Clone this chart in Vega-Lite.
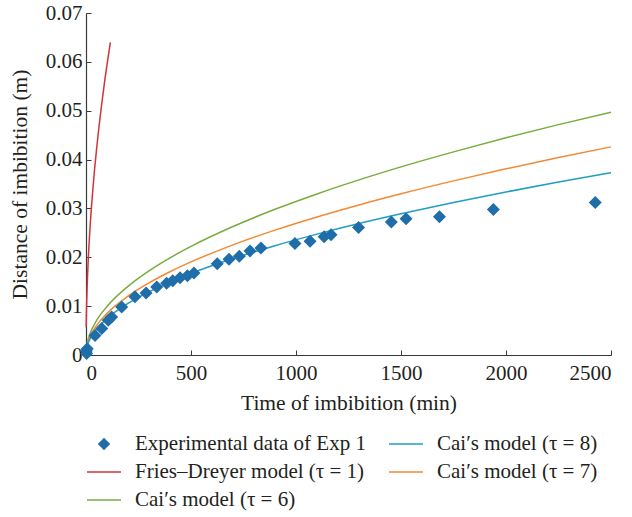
{
  "$schema": "https://vega.github.io/schema/vega-lite/v6.json",
  "autosize": {"type": "none"},
  "width": 525,
  "height": 342,
  "padding": {"left": 86, "top": 13, "right": 21, "bottom": 162},
  "background": "white",
  "config": {
    "font": "Liberation Serif",
    "view": {"stroke": null},
    "axis": {"grid": false, "domainColor": "#3a3a3a", "tickColor": "#3a3a3a", "labelColor": "#231f20", "titleColor": "#231f20", "labelFont": "Liberation Serif", "titleFont": "Liberation Serif", "labelFontSize": 21, "titleFontSize": 21.5, "titleFontWeight": "normal", "tickSize": -5, "domainWidth": 1.2, "labelPadding": 9},
    "legend": {"labelFont": "Liberation Serif", "labelFontSize": 21, "labelColor": "#231f20", "labelLimit": 400, "orient": "none", "direction": "horizontal", "legendX": 0, "legendY": 413, "columns": 2, "columnPadding": 20, "rowPadding": -8, "symbolSize": 1156, "symbolStrokeWidth": 1.5, "labelOffset": 13, "padding": 0}
  },
  "datasets": {
    "exp": [
      {"s": "Experimental data of Exp 1", "t": 1, "d": 0.0008}, {"s": "Experimental data of Exp 1", "t": 3, "d": 0.0003}, {"s": "Experimental data of Exp 1", "t": 6, "d": 0.0013},
      {"s": "Experimental data of Exp 1", "t": 43, "d": 0.004}, {"s": "Experimental data of Exp 1", "t": 75, "d": 0.0054}, {"s": "Experimental data of Exp 1", "t": 106, "d": 0.0071}, {"s": "Experimental data of Exp 1", "t": 122, "d": 0.0078},
      {"s": "Experimental data of Exp 1", "t": 170, "d": 0.0098}, {"s": "Experimental data of Exp 1", "t": 233, "d": 0.0119}, {"s": "Experimental data of Exp 1", "t": 286, "d": 0.0127}, {"s": "Experimental data of Exp 1", "t": 337, "d": 0.0139},
      {"s": "Experimental data of Exp 1", "t": 384, "d": 0.0147}, {"s": "Experimental data of Exp 1", "t": 413, "d": 0.0152}, {"s": "Experimental data of Exp 1", "t": 448, "d": 0.0158}, {"s": "Experimental data of Exp 1", "t": 483, "d": 0.0162},
      {"s": "Experimental data of Exp 1", "t": 514, "d": 0.0168}, {"s": "Experimental data of Exp 1", "t": 625, "d": 0.0187}, {"s": "Experimental data of Exp 1", "t": 681, "d": 0.0196}, {"s": "Experimental data of Exp 1", "t": 730, "d": 0.0202},
      {"s": "Experimental data of Exp 1", "t": 781, "d": 0.0213}, {"s": "Experimental data of Exp 1", "t": 833, "d": 0.0219}, {"s": "Experimental data of Exp 1", "t": 995, "d": 0.0228}, {"s": "Experimental data of Exp 1", "t": 1067, "d": 0.0233},
      {"s": "Experimental data of Exp 1", "t": 1134, "d": 0.0242}, {"s": "Experimental data of Exp 1", "t": 1167, "d": 0.0246}, {"s": "Experimental data of Exp 1", "t": 1298, "d": 0.0261}, {"s": "Experimental data of Exp 1", "t": 1454, "d": 0.0272},
      {"s": "Experimental data of Exp 1", "t": 1524, "d": 0.0279}, {"s": "Experimental data of Exp 1", "t": 1683, "d": 0.0283}, {"s": "Experimental data of Exp 1", "t": 1940, "d": 0.0298}, {"s": "Experimental data of Exp 1", "t": 2425, "d": 0.0312}
    ],
    "curves": [
      {"s": "Fries–Dreyer model (τ = 1)", "t": 1, "d": 0.0057},
      {"s": "Fries–Dreyer model (τ = 1)", "t": 2, "d": 0.0084},
      {"s": "Fries–Dreyer model (τ = 1)", "t": 5, "d": 0.0133},
      {"s": "Fries–Dreyer model (τ = 1)", "t": 10, "d": 0.0188},
      {"s": "Fries–Dreyer model (τ = 1)", "t": 20, "d": 0.0266},
      {"s": "Fries–Dreyer model (τ = 1)", "t": 30, "d": 0.0325},
      {"s": "Fries–Dreyer model (τ = 1)", "t": 40, "d": 0.0376},
      {"s": "Fries–Dreyer model (τ = 1)", "t": 50, "d": 0.042},
      {"s": "Fries–Dreyer model (τ = 1)", "t": 60, "d": 0.046},
      {"s": "Fries–Dreyer model (τ = 1)", "t": 70, "d": 0.0497},
      {"s": "Fries–Dreyer model (τ = 1)", "t": 80, "d": 0.0531},
      {"s": "Fries–Dreyer model (τ = 1)", "t": 90, "d": 0.0564},
      {"s": "Fries–Dreyer model (τ = 1)", "t": 100, "d": 0.0594},
      {"s": "Fries–Dreyer model (τ = 1)", "t": 116, "d": 0.064},
      {"s": "Cai′s model (τ = 6)", "t": 0, "d": 0},
      {"s": "Cai′s model (τ = 6)", "t": 5, "d": 0.00222},
      {"s": "Cai′s model (τ = 6)", "t": 20, "d": 0.00445},
      {"s": "Cai′s model (τ = 6)", "t": 50, "d": 0.00703},
      {"s": "Cai′s model (τ = 6)", "t": 100, "d": 0.00994},
      {"s": "Cai′s model (τ = 6)", "t": 200, "d": 0.01406},
      {"s": "Cai′s model (τ = 6)", "t": 300, "d": 0.01722},
      {"s": "Cai′s model (τ = 6)", "t": 400, "d": 0.01988},
      {"s": "Cai′s model (τ = 6)", "t": 500, "d": 0.02223},
      {"s": "Cai′s model (τ = 6)", "t": 700, "d": 0.0263},
      {"s": "Cai′s model (τ = 6)", "t": 900, "d": 0.02982},
      {"s": "Cai′s model (τ = 6)", "t": 1100, "d": 0.03297},
      {"s": "Cai′s model (τ = 6)", "t": 1300, "d": 0.03584},
      {"s": "Cai′s model (τ = 6)", "t": 1500, "d": 0.0385},
      {"s": "Cai′s model (τ = 6)", "t": 1750, "d": 0.04158},
      {"s": "Cai′s model (τ = 6)", "t": 2000, "d": 0.04445},
      {"s": "Cai′s model (τ = 6)", "t": 2250, "d": 0.04715},
      {"s": "Cai′s model (τ = 6)", "t": 2500, "d": 0.0497},
      {"s": "Cai′s model (τ = 7)", "t": 0, "d": 0},
      {"s": "Cai′s model (τ = 7)", "t": 5, "d": 0.00191},
      {"s": "Cai′s model (τ = 7)", "t": 20, "d": 0.00381},
      {"s": "Cai′s model (τ = 7)", "t": 50, "d": 0.00602},
      {"s": "Cai′s model (τ = 7)", "t": 100, "d": 0.00852},
      {"s": "Cai′s model (τ = 7)", "t": 200, "d": 0.01205},
      {"s": "Cai′s model (τ = 7)", "t": 300, "d": 0.01476},
      {"s": "Cai′s model (τ = 7)", "t": 400, "d": 0.01704},
      {"s": "Cai′s model (τ = 7)", "t": 500, "d": 0.01905},
      {"s": "Cai′s model (τ = 7)", "t": 700, "d": 0.02254},
      {"s": "Cai′s model (τ = 7)", "t": 900, "d": 0.02556},
      {"s": "Cai′s model (τ = 7)", "t": 1100, "d": 0.02826},
      {"s": "Cai′s model (τ = 7)", "t": 1300, "d": 0.03072},
      {"s": "Cai′s model (τ = 7)", "t": 1500, "d": 0.033},
      {"s": "Cai′s model (τ = 7)", "t": 1750, "d": 0.03564},
      {"s": "Cai′s model (τ = 7)", "t": 2000, "d": 0.0381},
      {"s": "Cai′s model (τ = 7)", "t": 2250, "d": 0.04041},
      {"s": "Cai′s model (τ = 7)", "t": 2500, "d": 0.0426},
      {"s": "Cai′s model (τ = 8)", "t": 0, "d": 0},
      {"s": "Cai′s model (τ = 8)", "t": 5, "d": 0.00167},
      {"s": "Cai′s model (τ = 8)", "t": 20, "d": 0.00334},
      {"s": "Cai′s model (τ = 8)", "t": 50, "d": 0.00527},
      {"s": "Cai′s model (τ = 8)", "t": 100, "d": 0.00746},
      {"s": "Cai′s model (τ = 8)", "t": 200, "d": 0.01055},
      {"s": "Cai′s model (τ = 8)", "t": 300, "d": 0.01292},
      {"s": "Cai′s model (τ = 8)", "t": 400, "d": 0.01492},
      {"s": "Cai′s model (τ = 8)", "t": 500, "d": 0.01668},
      {"s": "Cai′s model (τ = 8)", "t": 700, "d": 0.01974},
      {"s": "Cai′s model (τ = 8)", "t": 900, "d": 0.02238},
      {"s": "Cai′s model (τ = 8)", "t": 1100, "d": 0.02474},
      {"s": "Cai′s model (τ = 8)", "t": 1300, "d": 0.0269},
      {"s": "Cai′s model (τ = 8)", "t": 1500, "d": 0.02889},
      {"s": "Cai′s model (τ = 8)", "t": 1750, "d": 0.03121},
      {"s": "Cai′s model (τ = 8)", "t": 2000, "d": 0.03336},
      {"s": "Cai′s model (τ = 8)", "t": 2250, "d": 0.03539},
      {"s": "Cai′s model (τ = 8)", "t": 2500, "d": 0.0373}
    ]
  },
  "encoding": {
    "x": {"field": "t", "type": "quantitative", "title": "Time of imbibition (min)", "scale": {"domain": [0, 2500], "nice": false}, "axis": {"values": [0, 500, 1000, 1500, 2000, 2500], "format": "d", "labelPadding": 12, "titlePadding": 9}},
    "y": {"field": "d", "type": "quantitative", "title": "Distance of imbibition (m)", "scale": {"domain": [0, 0.07], "nice": false}, "axis": {"values": [0, 0.01, 0.02, 0.03, 0.04, 0.05, 0.06, 0.07], "format": ".2~f", "titlePadding": 14}},
    "color": {
      "field": "s", "type": "nominal", "title": null,
      "scale": {
        "domain": ["Experimental data of Exp 1", "Cai′s model (τ = 8)", "Fries–Dreyer model (τ = 1)", "Cai′s model (τ = 7)", "Cai′s model (τ = 6)"],
        "range": ["#1f6eaa", "#1f9ec4", "#d0343a", "#f28a35", "#78ac3e"]
      },
      "legend": {"orient": "none", "direction": "horizontal", "legendX": 0, "legendY": 413, "columns": 2, "columnPadding": 20, "rowPadding": -8}
    }
  },
  "layer": [
    {
      "data": {"name": "curves"},
      "mark": {"type": "line", "strokeWidth": 1.5, "interpolate": "monotone"},
      "encoding": {"detail": {"field": "s"}}
    },
    {
      "data": {"name": "exp"},
      "mark": {"type": "point", "filled": true, "size": 1877, "opacity": 1},
      "encoding": {
        "shape": {
          "field": "s", "type": "nominal", "title": null,
          "scale": {
            "domain": ["Experimental data of Exp 1", "Cai′s model (τ = 8)", "Fries–Dreyer model (τ = 1)", "Cai′s model (τ = 7)", "Cai′s model (τ = 6)"],
            "range": ["M-0.3,0L0,-0.3L0.3,0L0,0.3Z", "stroke", "stroke", "stroke", "stroke"]
          },
          "legend": {"orient": "none", "direction": "horizontal", "legendX": 0, "legendY": 413, "columns": 2, "columnPadding": 20, "rowPadding": -8}
        }
      }
    }
  ]
}
